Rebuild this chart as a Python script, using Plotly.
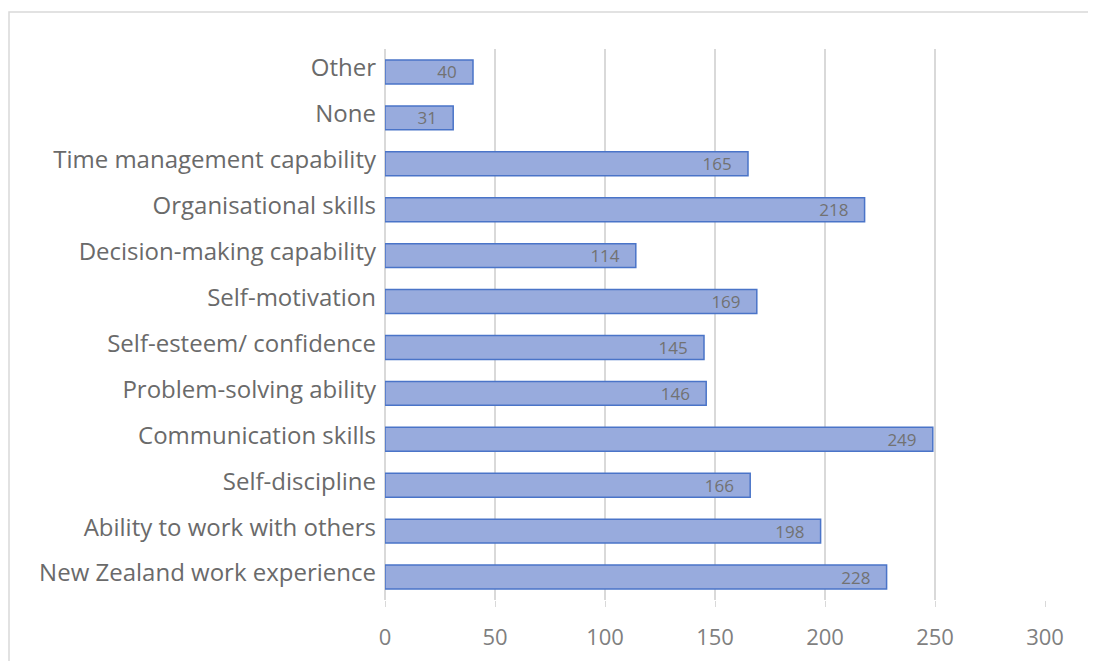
import plotly.graph_objects as go

categories = [
    "New Zealand work experience",
    "Ability to work with others",
    "Self-discipline",
    "Communication skills",
    "Problem-solving ability",
    "Self-esteem/ confidence",
    "Self-motivation",
    "Decision-making capability",
    "Organisational skills",
    "Time management capability",
    "None",
    "Other",
]
values = [228, 198, 166, 249, 146, 145, 169, 114, 218, 165, 31, 40]
tick_vals = [0, 50, 100, 150, 200, 250, 300]

FONT = "Open Sans, Noto Sans, sans-serif"

# The page body adds an 8px offset; margins compensate for it.
L, T = 377, 41
PW, PH = 660, 551

fig = go.Figure(
    go.Bar(
        y=categories,
        x=values,
        orientation="h",
        width=0.52,
        marker=dict(color="#98abdd", line=dict(color="#4a74c8", width=1.5)),
        text=[str(v) + "\u00a0\u00a0\u00a0" for v in values],
        textposition="inside",
        insidetextanchor="end",
        textangle=0,
        textfont=dict(family=FONT, size=17, color="#727272"),
        hoverinfo="skip",
    )
)

fig.update_layout(
    width=1096,
    height=661,
    margin=dict(l=L, r=1096 - L - PW, t=T, b=661 - T - PH),
    paper_bgcolor="white",
    plot_bgcolor="white",
    showlegend=False,
    font=dict(family=FONT),
    uniformtext=dict(minsize=17, mode="show"),
    xaxis=dict(
        range=[0, 300],
        tickvals=tick_vals,
        showgrid=True,
        gridcolor="#d9d9d9",
        gridwidth=1.5,
        zeroline=True,
        zerolinecolor="#d9d9d9",
        zerolinewidth=1.5,
        ticks="outside",
        ticklen=6,
        tickcolor="#d9d9d9",
        ticklabelstandoff=12,
        tickfont=dict(family=FONT, size=22, color="#7f7f7f"),
        showline=False,
    ),
    yaxis=dict(
        categoryorder="array",
        categoryarray=categories,
        range=[-0.5, 11.5],
        tickfont=dict(family=FONT, size=24, color="#6a6a6a"),
        ticks="",
        ticklabelstandoff=8,
        ticklabelshift=-4,
        showgrid=False,
        showline=False,
    ),
    shapes=[
        dict(
            type="rect",
            xref="paper",
            yref="paper",
            x0=(1 - L) / PW,
            x1=(1110 - L) / PW,
            y0=(T + PH - 680) / PH,
            y1=(T + PH - 4) / PH,
            line=dict(color="#d9d9d9", width=1.5),
            fillcolor="rgba(0,0,0,0)",
            layer="below",
        )
    ],
)

fig.write_html("out.html")
